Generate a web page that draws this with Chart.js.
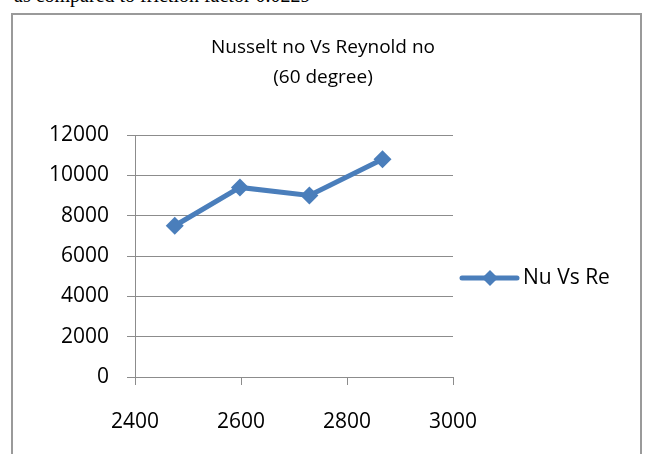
<!DOCTYPE html>
<html>
<head>
<meta charset="utf-8">
<script src="https://cdn.jsdelivr.net/npm/chart.js@4/dist/chart.umd.min.js"></script>
<style>
  body { margin: 0; background: #fff; width: 646px; height: 454px; overflow: hidden; position: relative; }
  #caption { position: absolute; left: 14px; top: -16px; font: 20px "Liberation Serif", serif; color: #000; white-space: nowrap; }
  #frame { position: absolute; left: 11px; top: 13px; width: 627px; height: 460px; border: 2px solid #9a9a9a; }
  canvas { position: absolute; left: 0; top: 0; }
</style>
</head>
<body>
<div id="caption">as compared to friction factor 0.0229</div>
<div id="frame"><canvas id="grafico" width="627" height="439"></canvas></div>
<script>
// dados
const reynolds = [2475, 2598, 2729, 2867];
const nusselt = [7500, 9400, 9000, 10800];
const serieNome = 'Nu Vs Re';
const tituloLinhas = ['Nusselt no Vs Reynold no', '(60 degree)'];

const azul = '#4a7ebb';
const cinza = '#8c8c8c';
const fonte = '"Open Sans", sans-serif';

// título e legenda desenhados à mão (legenda com linha + losango)
const extras = {
    id: 'extras',
    afterDraw(chart) {
        const ctx = chart.ctx;
        const area = chart.chartArea;
        ctx.save();
        ctx.fillStyle = '#000';
        ctx.textAlign = 'center';
        ctx.textBaseline = 'middle';
        ctx.font = '19px ' + fonte;
        ctx.fillText(tituloLinhas[0], 310, 33);
        ctx.fillText(tituloLinhas[1], 310, 63);

        const x0 = area.right + 9;
        const y0 = (area.top + area.bottom) / 2 + 22;
        ctx.strokeStyle = azul;
        ctx.lineWidth = 5;
        ctx.lineCap = 'round';
        ctx.beginPath();
        ctx.moveTo(x0, y0);
        ctx.lineTo(x0 + 55, y0);
        ctx.stroke();
        ctx.fillStyle = azul;
        Chart.helpers.drawPoint(ctx, { pointStyle: 'rectRot', radius: 8, rotation: 0, borderWidth: 0 }, x0 + 28, y0);
        ctx.fillStyle = '#000';
        ctx.textAlign = 'left';
        ctx.font = '21px ' + fonte;
        ctx.fillText(serieNome, x0 + 61, y0);
        ctx.restore();
    }
};

const semVirgula = (v) => String(v);

const grafCtx = document.getElementById('grafico').getContext('2d');
new Chart(grafCtx, {
    type: 'line',
    data: {
        datasets: [{
            label: serieNome,
            data: reynolds.map((r, i) => ({ x: r, y: nusselt[i] })),
            borderColor: azul,
            backgroundColor: azul,
            borderWidth: 5,
            pointStyle: 'rectRot',
            pointRadius: 9,
            pointBorderWidth: 0,
            tension: 0
        }]
    },
    options: {
        responsive: false,
        animation: false,
        layout: { padding: { top: 120, right: 187, left: 0, bottom: 0 } },
        plugins: { legend: { display: false }, title: { display: false }, tooltip: { enabled: false } },
        scales: {
            x: {
                type: 'linear',
                min: 2400,
                max: 3000,
                ticks: { stepSize: 200, color: '#000', padding: 24, font: { family: fonte, size: 21 }, callback: semVirgula },
                grid: { drawOnChartArea: false, tickLength: 8, color: cinza },
                border: { color: cinza },
                afterFit: (s) => { s.height = 77; }
            },
            y: {
                min: 0,
                max: 12000,
                ticks: { stepSize: 2000, color: '#000', padding: 18, font: { family: fonte, size: 21 }, callback: semVirgula },
                grid: { tickLength: 8, color: cinza },
                border: { color: cinza },
                afterFit: (s) => { s.width = 122; }
            }
        }
    },
    plugins: [extras]
});
</script>
</body>
</html>
